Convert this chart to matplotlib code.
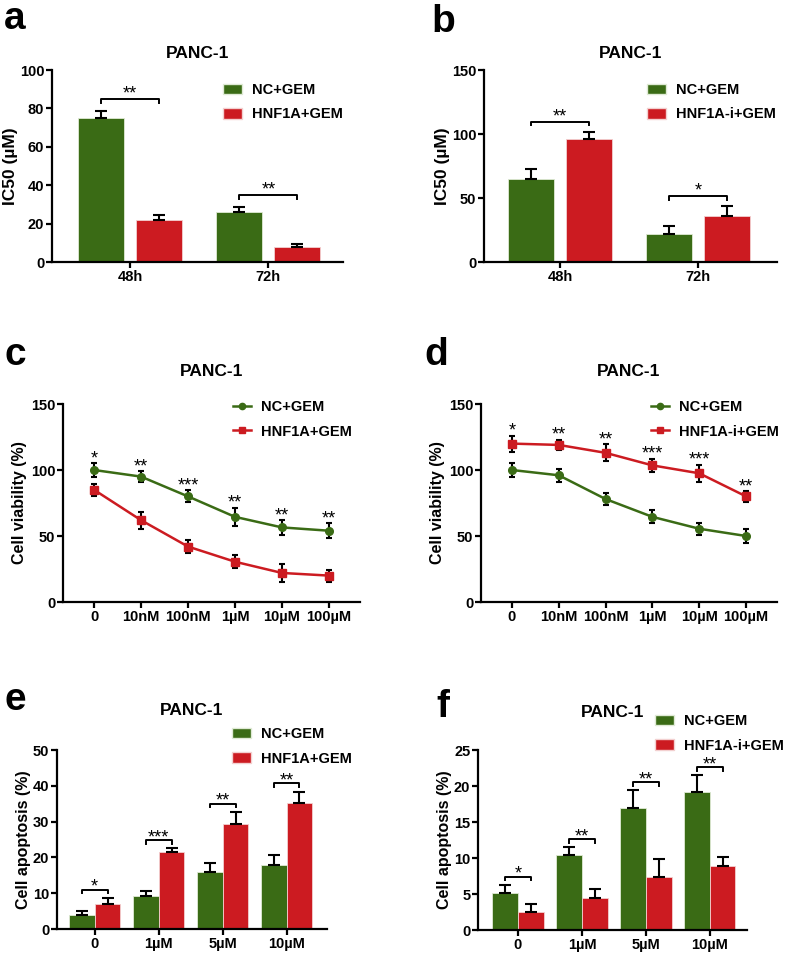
import numpy as np
import matplotlib
matplotlib.use("Agg")
import matplotlib.pyplot as plt
from matplotlib.patches import Patch
from matplotlib.lines import Line2D

plt.rcParams['font.family'] = ['Liberation Sans', 'DejaVu Sans']
plt.rcParams['font.weight'] = 'bold'
plt.rcParams['axes.labelweight'] = 'bold'
plt.rcParams['axes.titleweight'] = 'bold'

GREEN = '#3a6b15'
RED = '#cc1b21'

# ---------- data ----------
# a: IC50, NC vs HNF1A overexpression
a_groups = ['48h', '72h']
a_nc = [75, 26]
a_nc_err = [3.5, 2.5]
a_tr = [22, 8]
a_tr_err = [2.5, 1.5]
a_sig = ['**', '**']

# b: IC50, NC vs HNF1A inhibition
b_groups = ['48h', '72h']
b_nc = [65, 22]
b_nc_err = [8, 6.5]
b_tr = [96, 36]
b_tr_err = [5.5, 7.5]
b_sig = ['**', '*']

# c: viability, HNF1A overexpression
dose_labels = ['0', '10nM', '100nM', '1µM', '10µM', '100µM']
c_nc = [100, 95, 80, 64.5, 56.5, 54]
c_nc_err = [5, 4, 4.5, 7, 5.5, 5.5]
c_tr = [85, 62, 42, 30.5, 22, 20]
c_tr_err = [4.5, 6.5, 5, 5, 6.5, 4.5]
c_sig = ['*', '**', '***', '**', '**', '**']

# d: viability, HNF1A inhibition
d_nc = [100, 96, 78, 64.5, 55.5, 50]
d_nc_err = [5, 5, 4.5, 5, 4.5, 5.5]
d_tr = [120, 119, 113, 103.5, 97.5, 80]
d_tr_err = [6, 4, 6.5, 5, 6.5, 4]
d_sig = ['*', '**', '**', '***', '***', '**']

# e: apoptosis, HNF1A overexpression
apo_labels = ['0', '1µM', '5µM', '10µM']
e_nc = [4, 9.3, 16, 18]
e_nc_err = [1.1, 1.2, 2.4, 2.6]
e_tr = [7.1, 21.4, 29.3, 35.1]
e_tr_err = [1.6, 1.2, 3.4, 3.3]
e_sig = ['*', '***', '**', '**']

# f: apoptosis, HNF1A inhibition
f_nc = [5.2, 10.4, 17, 19.1]
f_nc_err = [1.1, 1.1, 2.4, 2.4]
f_tr = [2.5, 4.4, 7.3, 8.9]
f_tr_err = [1.1, 1.3, 2.5, 1.2]
f_sig = ['*', '**', '**', '**']

W, H = 787, 955
fig = plt.figure(figsize=(W / 100, H / 100), dpi=100)


def px_axes(x0, y0, x1, y1):
    return fig.add_axes([x0 / W, 1 - y1 / H, (x1 - x0) / W, (y1 - y0) / H])


def style(ax):
    for s in ['top', 'right']:
        ax.spines[s].set_visible(False)
    for s in ['left', 'bottom']:
        ax.spines[s].set_linewidth(1.6)
    ax.tick_params(width=1.6, length=4, labelsize=10.5, pad=1.5)


def legend_at(ax, handles, labels, x, y, hl):
    ax.legend(handles, labels, loc='upper left',
              bbox_to_anchor=(x / W, 1 - y / H), bbox_transform=fig.transFigure,
              frameon=False, fontsize=10.5, handlelength=hl, handleheight=0.75,
              handletextpad=0.7, labelspacing=0.72, borderpad=0, borderaxespad=0)


def bar_panel(ax, groups, nc, nc_err, tr, tr_err, sig, width, off, ymax, step,
              ylabel, ylsize, xlim, br_frac, star_dy):
    x = np.arange(len(groups))
    ax.bar(x - off, nc, width, color=GREEN, edgecolor='#dfead5', linewidth=0.6)
    ax.bar(x + off, tr, width, color=RED, edgecolor='#f3d0d0', linewidth=0.6)
    ax.errorbar(x - off, nc, yerr=[np.zeros(len(nc)), nc_err], fmt='none',
                ecolor='black', elinewidth=1.5, capsize=4, capthick=1.5)
    ax.errorbar(x + off, tr, yerr=[np.zeros(len(tr)), tr_err], fmt='none',
                ecolor='black', elinewidth=1.5, capsize=4, capthick=1.5)
    top = np.maximum(np.array(nc) + nc_err, np.array(tr) + tr_err)
    for xi, t, s in zip(x, top, sig):
        yb = t + br_frac * ymax
        d = 0.02 * ymax
        ax.plot([xi - off, xi - off, xi + off, xi + off], [yb - d, yb, yb, yb - d],
                color='black', lw=1.4)
        ax.annotate(s, (xi, yb), xytext=(0, star_dy), textcoords='offset points',
                    ha='center', va='baseline', fontsize=13, fontweight='normal')
    ax.set_xticks(x)
    ax.set_xticklabels(groups)
    ax.set_xlim(*xlim)
    ax.set_ylim(0, ymax)
    ax.set_yticks(np.arange(0, ymax + 0.1, step))
    ax.set_ylabel(ylabel, fontsize=ylsize, labelpad=1.5)
    style(ax)


def line_panel(ax, nc, nc_err, tr, tr_err, sig, star_on, xlim):
    x = np.arange(len(dose_labels))
    ax.errorbar(x, nc, yerr=nc_err, color=GREEN, marker='o', ms=5.5, lw=1.8,
                ecolor='black', elinewidth=1.5, capsize=2.5, capthick=1.5)
    ax.errorbar(x, tr, yerr=tr_err, color=RED, marker='s', ms=5.5, lw=1.8,
                ecolor='black', elinewidth=1.5, capsize=2.5, capthick=1.5)
    ref = np.array(nc) + nc_err if star_on == 'nc' else np.array(tr) + tr_err
    for xi, t, s in zip(x, ref, sig):
        ax.annotate(s, (xi, t), xytext=(0, 0), textcoords='offset points',
                    ha='center', va='baseline', fontsize=13, fontweight='normal')
    ax.set_xticks(x)
    ax.set_xticklabels(dose_labels)
    ax.set_xlim(*xlim)
    ax.set_ylim(0, 150)
    ax.set_yticks([0, 50, 100, 150])
    ax.set_ylabel('Cell viability (%)', fontsize=11.5, labelpad=3)
    style(ax)


def bar_handles():
    return [Patch(facecolor=GREEN, edgecolor='#dfead5'),
            Patch(facecolor=RED, edgecolor='#f3d0d0')]


def line_handles():
    return [Line2D([], [], color=GREEN, marker='o', ms=4.5, lw=1.8),
            Line2D([], [], color=RED, marker='s', ms=5, lw=1.8)]


# ---------- a ----------
ax = px_axes(52, 70, 343, 262)
bar_panel(ax, a_groups, a_nc, a_nc_err, a_tr, a_tr_err, a_sig, 0.333, 0.21,
          100, 20, 'IC50 (µM)', 12.5, (-0.565, 1.54), 0.065, 0)
ax.set_title('PANC-1', fontsize=12.5, pad=9)
legend_at(ax, bar_handles(), ['NC+GEM', 'HNF1A+GEM'], 223, 83, 1.3)

# ---------- b ----------
ax = px_axes(484, 70, 777, 262)
bar_panel(ax, b_groups, b_nc, b_nc_err, b_tr, b_tr_err, b_sig, 0.333, 0.21,
          150, 50, 'IC50 (µM)', 12.5, (-0.55, 1.57), 0.055, 0)
ax.set_title('PANC-1', fontsize=12.5, pad=9)
legend_at(ax, bar_handles(), ['NC+GEM', 'HNF1A-i+GEM'], 647, 83, 1.3)

# ---------- c ----------
ax = px_axes(63, 404, 360, 602)
line_panel(ax, c_nc, c_nc_err, c_tr, c_tr_err, c_sig, 'nc', (-0.66, 5.66))
ax.set_title('PANC-1', fontsize=12.5, pad=20)
legend_at(ax, line_handles(), ['NC+GEM', 'HNF1A+GEM'], 233, 400, 1.25)

# ---------- d ----------
ax = px_axes(481, 404, 777, 602)
line_panel(ax, d_nc, d_nc_err, d_tr, d_tr_err, d_sig, 'tr', (-0.66, 5.66))
ax.set_title('PANC-1', fontsize=12.5, pad=20)
legend_at(ax, line_handles(), ['NC+GEM', 'HNF1A-i+GEM'], 651, 400, 1.25)

# ---------- e ----------
ax = px_axes(57, 750, 327, 929)
bar_panel(ax, apo_labels, e_nc, e_nc_err, e_tr, e_tr_err, e_sig, 0.4, 0.2,
          50, 10, 'Cell apoptosis (%)', 11.5, (-0.59, 3.63), 0.045, -1.5)
ax.set_title('PANC-1', fontsize=12.5, pad=25)
legend_at(ax, bar_handles(), ['NC+GEM', 'HNF1A+GEM'], 232, 727, 1.3)

# ---------- f ----------
ax = px_axes(478, 750, 747, 930)
bar_panel(ax, apo_labels, f_nc, f_nc_err, f_tr, f_tr_err, f_sig, 0.4, 0.2,
          25, 5, 'Cell apoptosis (%)', 11.5, (-0.625, 3.58), 0.045, -1.5)
ax.set_title('PANC-1', fontsize=12.5, pad=24)
legend_at(ax, bar_handles(), ['NC+GEM', 'HNF1A-i+GEM'], 655, 714, 1.3)

# panel letters
for lab, x, y in [('a', 4, 29), ('b', 431, 32), ('c', 4, 365),
                  ('d', 424, 365), ('e', 4, 710), ('f', 436, 717)]:
    fig.text(x / W, 1 - y / H, lab, fontsize=28, fontweight='bold',
             va='baseline', ha='left')

fig.savefig('out.png', dpi=100)
